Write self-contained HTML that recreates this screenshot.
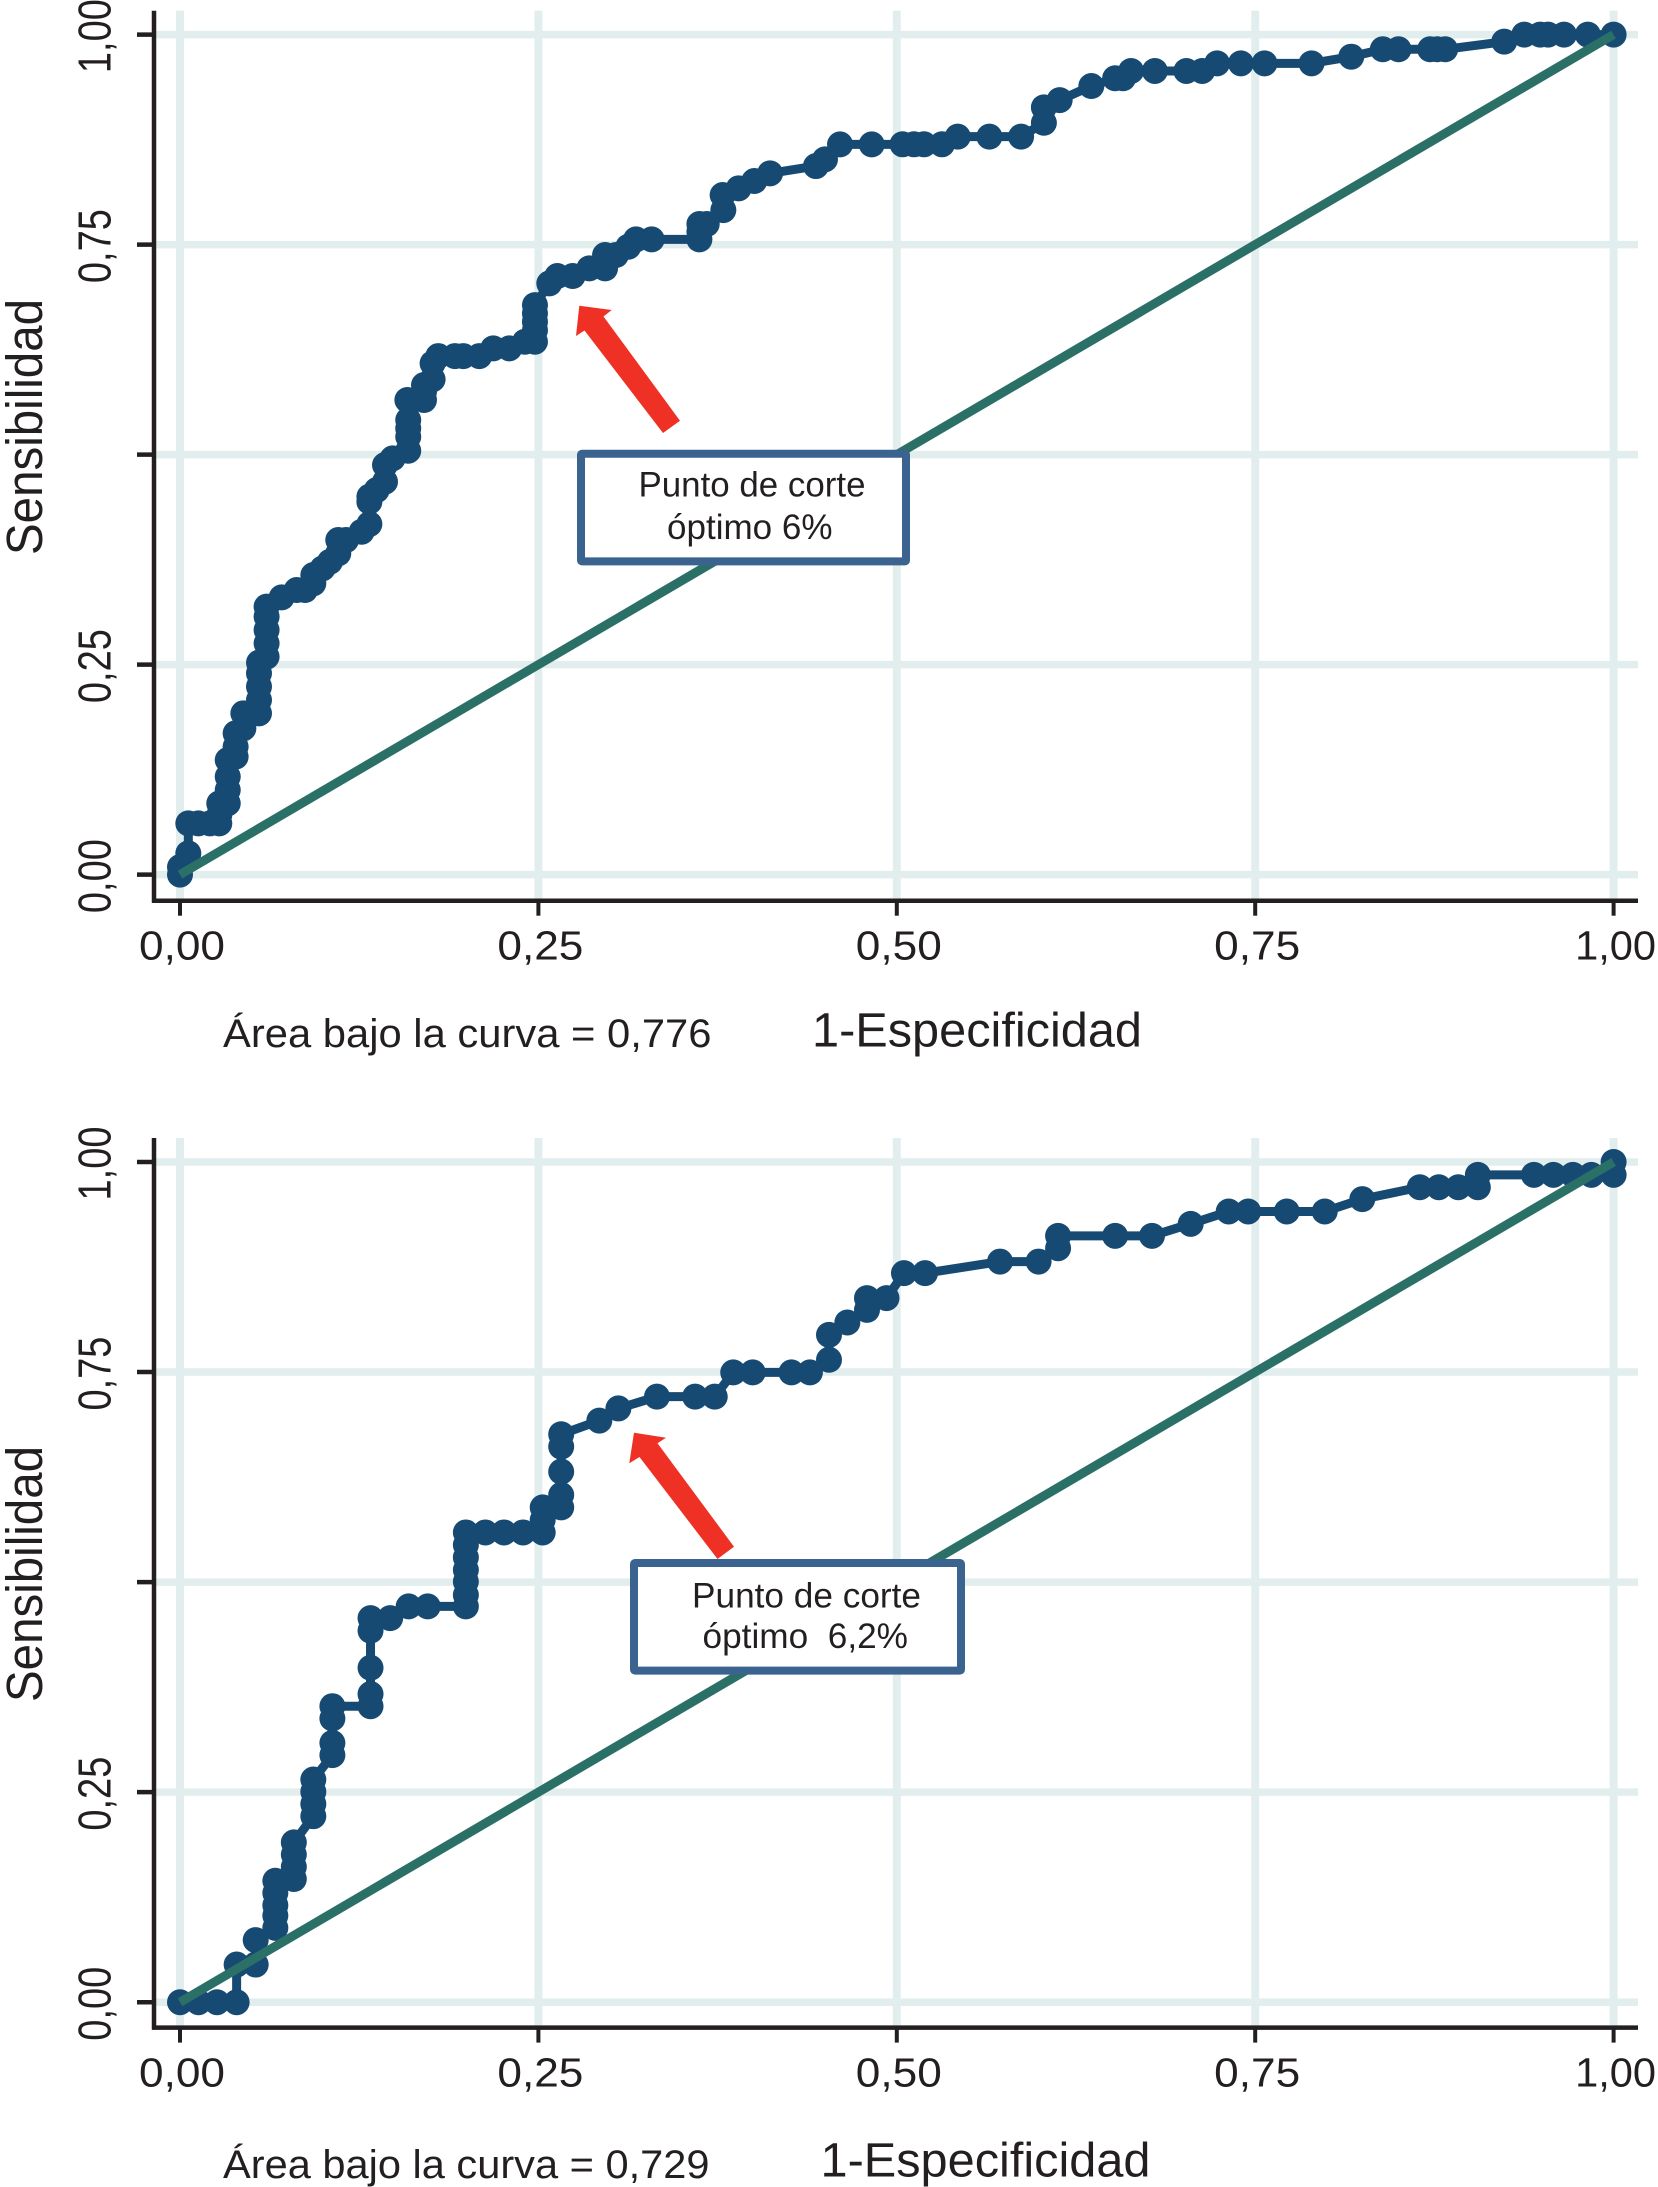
<!DOCTYPE html>
<html lang="es">
<head>
<meta charset="utf-8">
<title>Curvas ROC</title>
<style>
html,body{margin:0;padding:0;background:#fff;}
svg{display:block;}
text{font-family:"Liberation Sans",Arial,sans-serif;fill:#231f20;white-space:pre;}
</style>
</head>
<body>
<svg id="figure" xmlns="http://www.w3.org/2000/svg" width="1658" height="2187" viewBox="0 0 1658 2187">
  <rect x="0" y="0" width="1658" height="2187" fill="#ffffff"/>

  <g id="chart-1">
    <g id="c1-plot"></g>
    <polygon fill="#ee3124" points="579.3,305.7 611.7,310 603.5,316.5 680,420.7 663,433 584.5,330.5 576,336"/>
    <g>
      <rect x="581" y="453.8" width="325" height="107.6" rx="1" fill="#ffffff" stroke="#3a638f" stroke-width="8" stroke-linejoin="round"/>
      <text x="638.5" y="496.4" font-size="35" textLength="227" lengthAdjust="spacingAndGlyphs">Punto de corte</text>
      <text x="667" y="539" font-size="35" textLength="165.5" lengthAdjust="spacingAndGlyphs">óptimo 6%</text>
    </g>
    <text transform="translate(42,427) rotate(-90)" text-anchor="middle" font-size="51" textLength="256" lengthAdjust="spacingAndGlyphs">Sensibilidad</text>
    <text x="223" y="1047" font-size="40" textLength="488.5" lengthAdjust="spacingAndGlyphs">Área bajo la curva = 0,776</text>
    <text x="812" y="1046.7" font-size="48" textLength="330" lengthAdjust="spacingAndGlyphs">1-Especificidad</text>
  </g>

  <g id="chart-2">
    <g id="c2-plot"></g>
    <polygon fill="#ee3124" points="634,1432.7 666,1437.7 657.5,1443.3 734,1546.7 717.5,1559 639.5,1457 629.3,1463.3"/>
    <g>
      <rect x="634" y="1563" width="327" height="107.6" rx="1" fill="#ffffff" stroke="#3a638f" stroke-width="8" stroke-linejoin="round"/>
      <text x="692" y="1607.3" font-size="35" textLength="229" lengthAdjust="spacingAndGlyphs">Punto de corte</text>
      <text x="702.5" y="1648" font-size="35" textLength="205.5" lengthAdjust="spacingAndGlyphs">óptimo  6,2%</text>
    </g>
    <text transform="translate(42,1574) rotate(-90)" text-anchor="middle" font-size="51" textLength="256" lengthAdjust="spacingAndGlyphs">Sensibilidad</text>
    <text x="223" y="2178" font-size="40" textLength="486.5" lengthAdjust="spacingAndGlyphs">Área bajo la curva = 0,729</text>
    <text x="820.5" y="2176.7" font-size="48" textLength="330" lengthAdjust="spacingAndGlyphs">1-Especificidad</text>
  </g>
</svg>

<script>
var xTickValues = [0, 0.25, 0.5, 0.75, 1];
var xTickLabels = ['0,00', '0,25', '0,50', '0,75', '1,00'];
var yTickValues = [0, 0.25, 0.5, 0.75, 1];
var yTickLabels = ['0,00', '0,25', '', '0,75', '1,00'];
var diagonalX = [0, 1];
var diagonalY = [0, 1];

var fprTop = [0,0,.0058,.0058,.0128,.0209,.0274,.0274,.0274,.0333,.0333,.0333,.0333,.0388,.0388,.0388,.0442,.0442,.0551,.0551,.0551,.0551,.0551,.0604,.0604,.0604,.0604,.0604,
  .0709,.0814,.0872,.093,.093,.0995,.1046,.1104,.1104,.1158,.1267,.1321,.1321,.1321,.1372,.143,.143,.1483,.1592,.1592,.1592,.1592,.1586,.1702,.1702,.1702,.1762,.1762,.1802,.1918,.1976,.2088,.2185,.2297,.2406,.2476,.2476,.2476,.2476,.2476,
  .2576,.2632,.2739,.2855,.2965,.2965,.3041,.3127,.3181,.329,.3623,.3623,.3623,.3674,.379,.3785,.3897,.4006,.4116,.4436,.4499,.4604,.4825,
  .504,.512,.519,.5315,.5425,.5646,.5867,.6026,.6026,.6136,.6357,.6523,.6578,.6634,.68,.702,.713,.7234,.74,.7565,.7893,.817,.839,.85,.872,.877,.8825,.9237,.9377,.9488,.9543,.9654,.982,1];
var sensTop = [0,.009,.0253,.061,.061,.061,.061,.0709,.0848,.0848,.1007,.1166,.1364,.1404,.1523,.1682,.1741,.192,.192,.2079,.2238,.2396,.2523,.2594,.2753,.2912,.3071,.319,
  .33,.3388,.3388,.3467,.3566,.3646,.3725,.3824,.3983,.3983,.4082,.4173,.4439,.4499,.4578,.4677,.4876,.4955,.5046,.5213,.5312,.5412,.565,.565,.5749,.5828,.5896,.6086,.6173,.6173,.6173,.6173,.6265,.6265,.6344,.6344,.648,.658,.668,.678,
  .7038,.7126,.7126,.7217,.7217,.7376,.7376,.7475,.7562,.7562,.7562,.7654,.7745,.7745,.7911,.809,.817,.8257,.8348,.8435,.8515,.8693,.8693,
  .8694,.8694,.8694,.8694,.8785,.8785,.8785,.895,.9134,.922,.9388,.948,.948,.9567,.9567,.9567,.9567,.9658,.9658,.9658,.9658,.9737,.9825,.9825,.9825,.9825,.9825,.9916,1,1,1,1,1,1];

var fprBottom = [0,.0129,.0258,.0395,.0395,.0528,.0528,.0665,.0665,.0665,.0665,.0665,.0794,.0794,.0794,.0794,.093,.093,.093,.093,.1063,.1063,.1063,.1063,.1329,.1329,.1329,.1329,.1329,
  .1466,.1595,.1728,.1994,.1994,.1994,.1994,.1994,.1994,.1994,.213,.226,.2393,.253,.253,.253,.2659,.2659,.2659,.2659,.2659,.2925,.3058,.3327,.3593,.373,.3859,.3995,.4265,.4394,.4527,.4527,.4655,.4792,.4792,.4928,.505,.5197,.572,.5989,.6125,.6125,.6523,.678,.705,.7315,.7451,.772,.7985,.8247,.8648,.8781,.8917,.9053,.9053,.9444,.958,.9716,.9845,1,1];
var sensBottom = [0,0,0,0,.0448,.0448,.0739,.0885,.103,.1154,.13,.1445,.1466,.1611,.1757,.1902,.2214,.2359,.2505,.265,.2941,.3086,.3377,.3523,.3523,.3668,.398,.4422,.4571,
  .4571,.4711,.4711,.4711,.4847,.5005,.5145,.5294,.5443,.5591,.5591,.5591,.5591,.5591,.574,.5889,.5889,.6038,.6314,.6612,.676,.6922,.7067,.7207,.7207,.7207,.7496,.7496,.7496,.7496,.7646,.7943,.809,.824,.838,.838,.8677,.8677,.8815,.8815,.8974,.9121,.9121,.9121,.9264,.9411,.9411,.9411,.9411,.9558,.97,.97,.97,.97,.9847,.9847,.9847,.9847,.9847,.9847,1];

var SVG_NS = 'http://www.w3.org/2000/svg';

function makeEl(tag, attrs) {
  var el = document.createElementNS(SVG_NS, tag);
  for (var key in attrs) { el.setAttribute(key, attrs[key]); }
  return el;
}

function drawChart(plotId, suffix, yZero, yOne, axisY, topY, fpr, sens) {
  var plot = document.getElementById(plotId);
  var xScale = function (v) { return 180 + v * 1433.6; };
  var yScale = function (v) { return yZero + v * (yOne - yZero); };
  var axisX = 154;
  var axisRight = 1638;
  var gridColor = '#e2eeee';
  var inkColor = '#231f20';

  var gridGroup = makeEl('g', {});
  
  
  plot.appendChild(gridGroup);

  yTickValues.forEach(function (v) {
    var line = makeEl('line', {x1: axisX, x2: axisRight, y1: yScale(v), y2: yScale(v), stroke: gridColor, 'stroke-width': 7.5});
    
    
    gridGroup.appendChild(line);
  });
  xTickValues.forEach(function (v) {
    var line = makeEl('line', {x1: xScale(v), x2: xScale(v), y1: topY, y2: axisY, stroke: gridColor, 'stroke-width': 8});
    
    
    gridGroup.appendChild(line);
  });

  var yAxis = makeEl('line', {x1: axisX, x2: axisX, y1: topY, y2: axisY + 2, stroke: inkColor, 'stroke-width': 4.5});
  
  
  plot.appendChild(yAxis);

  var xAxis = makeEl('line', {x1: axisX - 2, x2: axisRight, y1: axisY, y2: axisY, stroke: inkColor, 'stroke-width': 4.5});
  
  
  plot.appendChild(xAxis);

  xTickValues.forEach(function (v, i) {
    var tick = makeEl('line', {x1: xScale(v), x2: xScale(v), y1: axisY, y2: axisY + 15, stroke: inkColor, 'stroke-width': 4});
    
    
    plot.appendChild(tick);
    var label = makeEl('text', {x: xScale(v) + 2, y: axisY + 59, 'text-anchor': 'middle', 'font-size': 41, textLength: i === 4 ? 81 : 86, lengthAdjust: 'spacingAndGlyphs'});
    
    
    label.textContent = xTickLabels[i];
    plot.appendChild(label);
  });

  yTickValues.forEach(function (v, i) {
    var tick = makeEl('line', {x1: axisX - 17, x2: axisX, y1: yScale(v), y2: yScale(v), stroke: inkColor, 'stroke-width': 4.5});
    
    
    plot.appendChild(tick);
    if (yTickLabels[i]) {
      var label = makeEl('text', {transform: 'translate(110.5,' + (yScale(v) + 1.5) + ') rotate(-90)', 'text-anchor': 'middle', 'font-size': 46, textLength: 74, lengthAdjust: 'spacingAndGlyphs'});
      
      
      label.textContent = yTickLabels[i];
      plot.appendChild(label);
    }
  });

  var curvePoints = fpr.map(function (v, i) { return xScale(v) + ',' + yScale(sens[i]); }).join(' ');
  var curve = makeEl('polyline', {points: curvePoints, fill: 'none', stroke: '#164a72', 'stroke-width': 9, 'stroke-linejoin': 'round'});
  
  
  plot.appendChild(curve);

  var pointGroup = makeEl('g', {fill: '#164a72'});
  
  
  plot.appendChild(pointGroup);
  fpr.forEach(function (v, i) {
    var dot = makeEl('circle', {cx: xScale(v), cy: yScale(sens[i]), r: 13});
    
    
    pointGroup.appendChild(dot);
  });

  var diagonal = makeEl('line', {x1: xScale(diagonalX[0]), y1: yScale(diagonalY[0]), x2: xScale(diagonalX[1]), y2: yScale(diagonalY[1]), stroke: '#2b7067', 'stroke-width': 9});
  
  
  plot.appendChild(diagonal);
}

drawChart('c1-plot', 'top', 874.6, 34.6, 900.7, 10.7, fprTop, sensTop);
drawChart('c2-plot', 'bottom', 2002.2, 1162, 2027.6, 1138, fprBottom, sensBottom);
</script>
</body>
</html>
